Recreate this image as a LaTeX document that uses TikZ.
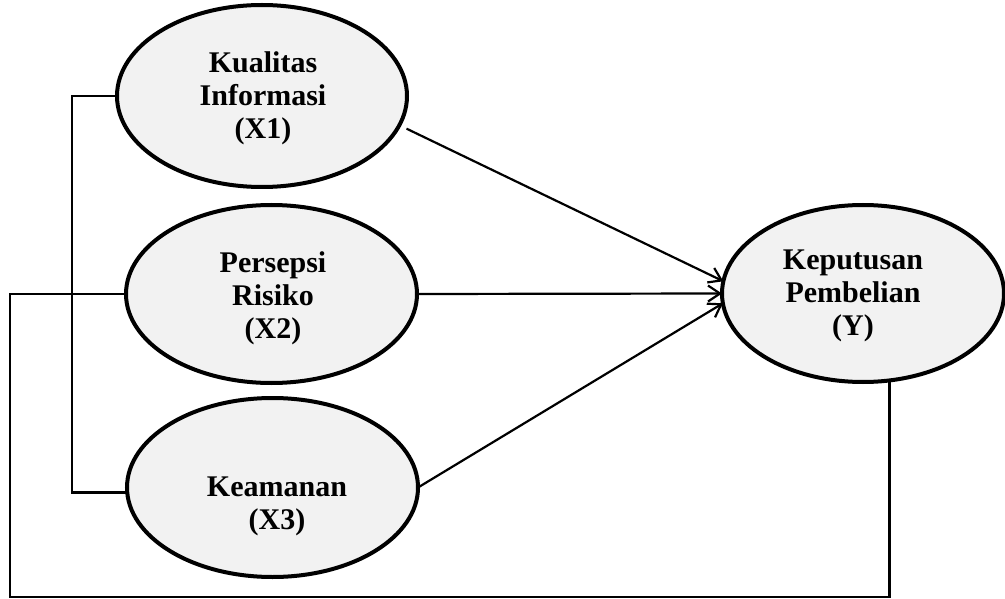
\documentclass[tikz,border=0pt]{standalone}
\usepackage{fontspec}
\setmainfont{Liberation Serif}
\usetikzlibrary{shapes.geometric,arrows.meta}
\begin{document}
\begin{tikzpicture}[x=1pt,y=-1pt,
  latent/.style={ellipse,draw=black,line width=4pt,fill={rgb,255:red,242;green,242;blue,242},inner sep=0pt,outer sep=0pt},
  lbl/.style={align=center,font=\fontsize{30}{33}\selectfont\bfseries,inner sep=0pt},
  conn/.style={draw=black,line width=2.2pt},
  arr/.style={conn,-{Straight Barb[length=12pt,width=16pt,line width=2.2pt]}}]
\useasboundingbox (0,0) rectangle (1005,599);
\node[latent,minimum width=290pt,minimum height=182pt] (x1) at (262,96) {};
\node[latent,minimum width=291pt,minimum height=178pt] (x2) at (271.5,294) {};
\node[latent,minimum width=291pt,minimum height=179pt] (x3) at (272.5,487.5) {};
\node[latent,minimum width=282pt,minimum height=177pt] (y) at (863,293.5) {};
\node[lbl] (t1) at (263,98) {Kualitas\\Informasi\\(X1)};
\node[lbl] (t2) at (273,298) {Persepsi\\Risiko\\(X2)};
\node[lbl] (t3) at (277,506) {Keamanan\\(X3)};
\node[lbl] (ty) at (853,296) {Keputusan\\Pembelian\\(Y)};
\coordinate (bl) at (72,96);
\coordinate (c1) at (10,597);
\draw[arr,shorten <=8pt] (x1.-12) -- (y.175.5);
\draw[arr] (x2.east) -- (y.west);
\draw[arr] (x3.east) -- (y.184.5);
\draw[conn] (x1.west) -- (bl) |- (x3.182);
\draw[conn] (y.-73) |- (c1) |- (x2.west);
\end{tikzpicture}
\end{document}
